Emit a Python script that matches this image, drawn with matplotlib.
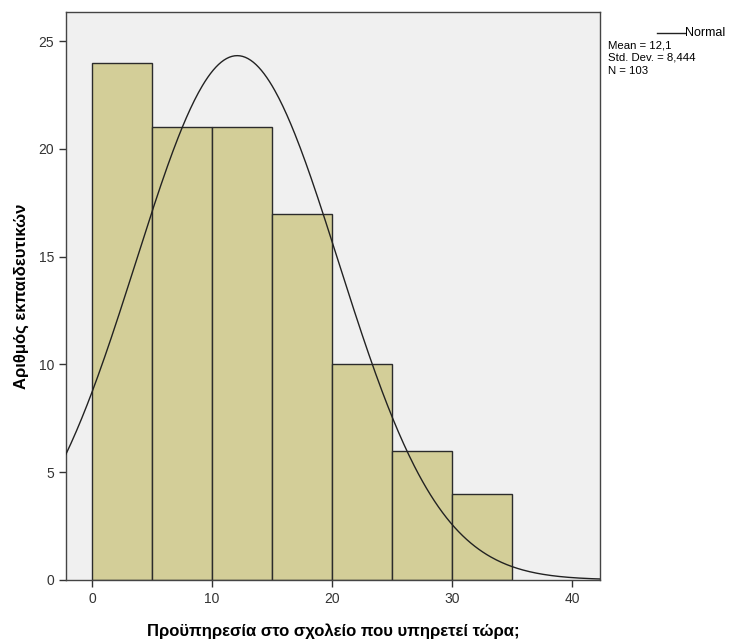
import numpy as np
import matplotlib
matplotlib.use("Agg")
import matplotlib.pyplot as plt

# histogram data (bin edges in years, counts of teachers)
bin_edges = [0, 5, 10, 15, 20, 25, 30, 35]
counts = [24, 21, 21, 17, 10, 6, 4]
mean_val = 12.1
std_val = 8.444
n_total = 103

x_ticks = [0, 10, 20, 30, 40]
y_ticks = [0, 5, 10, 15, 20, 25]

plt.rcParams["font.family"] = ["Liberation Sans", "DejaVu Sans"]

fig = plt.figure(figsize=(7.29, 6.40), dpi=100)
ax = fig.add_axes([0.0905, 0.094, 0.7325, 0.887])
ax.set_facecolor("#F0F0F0")

lefts = bin_edges[:-1]
widths = np.diff(bin_edges)
ax.bar(lefts, counts, width=widths, align="edge", color="#D3CE98",
       edgecolor="#2b2b2b", linewidth=1.0, zorder=2)

xs = np.linspace(-2.2, 42.4, 400)
bw = bin_edges[1] - bin_edges[0]
ys = n_total * bw / (std_val * np.sqrt(2 * np.pi)) * np.exp(-0.5 * ((xs - mean_val) / std_val) ** 2)
ax.plot(xs, ys, color="#222222", linewidth=1.0, zorder=3)

ax.set_xlim(-2.17, 42.33)
ax.set_ylim(0, 26.35)
ax.set_xticks(x_ticks)
ax.set_yticks(y_ticks)
ax.tick_params(direction="out", length=5, width=1, labelsize=10, colors="#333333")
for s in ax.spines.values():
    s.set_color("#444444")
    s.set_linewidth(1.0)

ax.set_xlabel("Προϋπηρεσία στο σχολείο που υπηρετεί τώρα;", fontsize=12,
              fontweight="bold", labelpad=13)
ax.set_ylabel("Αριθμός εκπαιδευτικών", fontsize=12, fontweight="bold", labelpad=7)

# legend-like annotation outside the plot on the right
fig.lines.append(plt.Line2D([657 / 729, 685 / 729], [1 - 33 / 640, 1 - 33 / 640],
                            transform=fig.transFigure, color="#222222", linewidth=1.0))
fig.text(685 / 729, 1 - 33 / 640, "Normal", fontsize=9, va="center", ha="left")
fig.text(608 / 729, 1 - 45 / 640, "Mean = 12,1", fontsize=8.2, va="center", ha="left")
fig.text(608 / 729, 1 - 58 / 640, "Std. Dev. = 8,444", fontsize=8.2, va="center", ha="left")
fig.text(608 / 729, 1 - 71 / 640, "N = 103", fontsize=8.2, va="center", ha="left")

fig.savefig("out.png", dpi=100)
